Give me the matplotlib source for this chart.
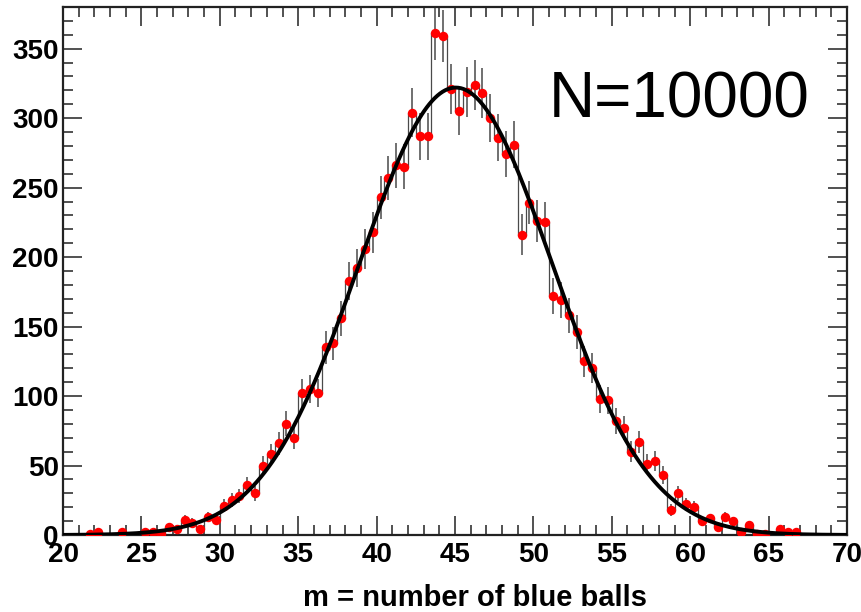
#!/usr/bin/env python3
"""Histogram of the number of blue balls drawn, N=10000 trials, with Gaussian fit."""

import numpy as np
import matplotlib
matplotlib.use("Agg")
import matplotlib.pyplot as plt
from matplotlib.ticker import MultipleLocator

# ---------------------------------------------------------------------------
# Data: 100 bins of width 0.5 between 20 and 70
# ---------------------------------------------------------------------------

BIN_LO, BIN_HI, N_BINS = 20.0, 70.0, 100

counts = [
    0, 0, 0, 1, 2, 0, 0, 2, 0, 0,            # 20.25 .. 24.75
    2, 2, 1, 6, 4, 11, 9, 4, 13, 11,         # 25.25 .. 29.75
    21, 25, 28, 36, 30, 50, 58, 66, 80, 70,  # 30.25 .. 34.75
    102, 105, 102, 135, 138, 156, 183, 192, 206, 218,   # 35.25 .. 39.75
    243, 257, 266, 265, 304, 287, 287, 361, 359, 321,   # 40.25 .. 44.75
    305, 319, 324, 318, 300, 286, 274, 281, 216, 239,   # 45.25 .. 49.75
    226, 225, 172, 169, 158, 146, 125, 120, 98, 97,     # 50.25 .. 54.75
    82, 77, 60, 67, 51, 53, 43, 18, 30, 22,  # 55.25 .. 59.75
    20, 10, 12, 6, 13, 10, 2, 7, 1, 1,       # 60.25 .. 64.75
    0, 4, 2, 2, 0, 0, 0, 0, 0, 0,            # 65.25 .. 69.75
]

# Gaussian fit parameters
fit_const = 322.0
fit_mean = 45.05
fit_sigma = 6.15

n_label = "N=10000"
x_label = "m = number of blue balls"

# ---------------------------------------------------------------------------
# Plot
# ---------------------------------------------------------------------------

plt.rcParams["font.family"] = ["Liberation Sans", "DejaVu Sans"]

edges = np.linspace(BIN_LO, BIN_HI, N_BINS + 1)
centers = 0.5 * (edges[:-1] + edges[1:])
y = np.array(counts, dtype=float)
nz = y > 0

fig = plt.figure(figsize=(8.62, 6.12), dpi=100)
ax = fig.add_axes([0.0731, 0.1258, 0.9095, 0.8628])

# histogram outline and statistical errors
ax.stairs(y, edges, color="#4a4a4a", linewidth=0.9, zorder=2)
ax.errorbar(centers[nz], y[nz], yerr=np.sqrt(y[nz]), fmt="none",
            ecolor="#707070", elinewidth=1.4, capsize=0, zorder=2)
ax.plot(centers[nz], y[nz], "o", color="#ff0000", markersize=6.8,
        markeredgewidth=0, zorder=3)

# fitted Gaussian
xf = np.linspace(BIN_LO, BIN_HI, 600)
ax.plot(xf, fit_const * np.exp(-0.5 * ((xf - fit_mean) / fit_sigma) ** 2),
        color="black", linewidth=2.8, zorder=4)

ax.set_xlim(BIN_LO, BIN_HI)
ax.set_ylim(0, 380)

ax.xaxis.set_major_locator(MultipleLocator(5))
ax.xaxis.set_minor_locator(MultipleLocator(1))
ax.yaxis.set_major_locator(MultipleLocator(50))
ax.yaxis.set_minor_locator(MultipleLocator(10))

ax.tick_params(which="both", direction="in", top=True, right=True,
               color="#333333", width=1.2)
ax.tick_params(which="major", length=14)
ax.tick_params(which="minor", length=7)
ax.tick_params(axis="x", which="major", pad=5)
ax.tick_params(axis="y", which="major", pad=3)

for lbl in ax.get_xticklabels() + ax.get_yticklabels():
    lbl.set_fontsize(20)
    lbl.set_fontweight("bold")

for sp in ax.spines.values():
    sp.set_linewidth(1.6)
    sp.set_color("#222222")

ax.set_xlabel(x_label, fontsize=21, fontweight="bold", va="center")
ax.xaxis.set_label_coords(0.525, -0.119)

ax.text(0.619, 0.79, n_label, transform=ax.transAxes, fontsize=46,
        ha="left", va="baseline", color="black")

fig.savefig("out.png", dpi=100)
